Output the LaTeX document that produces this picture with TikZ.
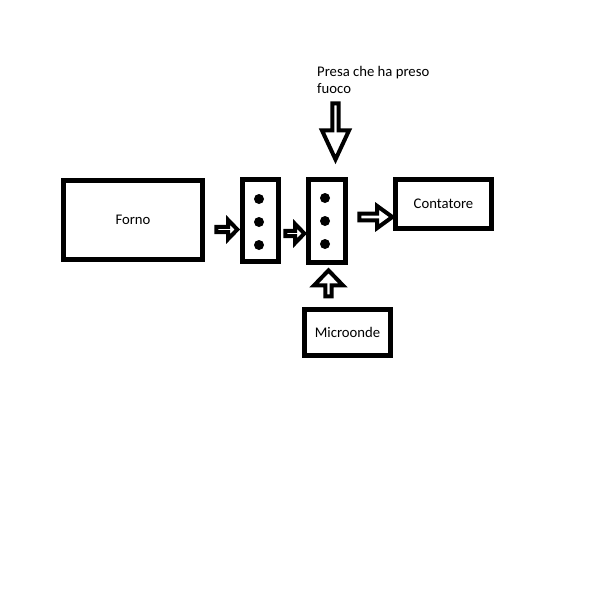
\documentclass[tikz,border=0pt]{standalone}
\usepackage{fontspec}
\setmainfont{Carlito}
\usetikzlibrary{shapes.arrows}

\tikzset{
  box/.style={draw, line width=5pt, inner sep=0pt},
  flow/.style={single arrow, draw, line width=4pt, inner sep=0pt},
}

\begin{document}
\begin{tikzpicture}[x=1pt, y=-1pt, font=\fontsize{14.7}{17.5}\selectfont]
            \useasboundingbox (0,0) rectangle (600,600);
            \node[box, minimum width=139pt, minimum height=79pt] (forno) at (133,220) {Forno};
            \node[box, minimum width=36pt, minimum height=82pt] (presa1) at (260,220) {};
            \node[box, minimum width=37pt, minimum height=83pt] (presa2) at (327,220.5) {};
            \node[box, minimum width=96pt, minimum height=49pt] (contatore) at (443.5,204) {Contatore};
            \node[box, minimum width=86pt, minimum height=46pt] (microonde) at (347.5,332.5) {Microonde};
            \foreach \y in {199,222,245} \fill (259,\y) circle (5pt);
            \foreach \y in {198,221,244} \fill (325,\y) circle (5pt);
            \node[flow, minimum height=21pt, minimum width=19pt, single arrow head extend=5pt, single arrow tip angle=92] (fornoPresa) at (225.5,229.5) {};
            \node[flow, minimum height=19pt, minimum width=19pt, single arrow head extend=5pt, single arrow tip angle=92] (presaPresa) at (293.5,233.5) {};
            \node[flow, minimum height=33pt, minimum width=22pt, single arrow head extend=4.5pt, single arrow tip angle=72] (presaContatore) at (373.5,217) {};
            \node[flow, minimum height=26pt, minimum width=29pt, single arrow head extend=7.5pt, single arrow tip angle=88, rotate=90] (microondePresa) at (328.5,285) {};
            \node[flow, minimum height=56pt, minimum width=27pt, single arrow head extend=6.5pt, single arrow tip angle=50, rotate=-90] (fuocoPresa) at (335.5,128) {};
            \node[anchor=north west, inner sep=0pt, align=left] (fuoco) at (317,66) {Presa che ha preso\\fuoco};
        \end{tikzpicture}
\end{document}
